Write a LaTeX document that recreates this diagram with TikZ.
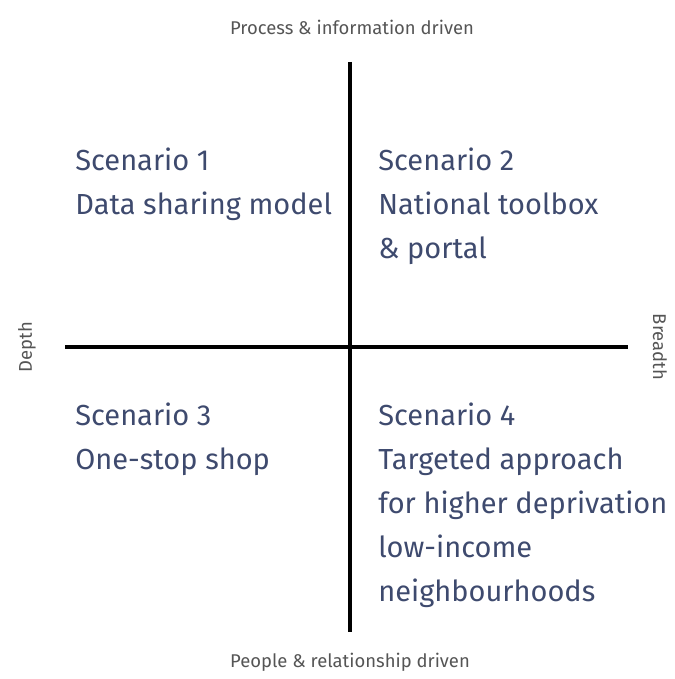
\documentclass[tikz,border=0pt]{standalone}
\usepackage{fontspec}
\setmainfont{Fira Sans}
\definecolor{scentext}{HTML}{3E4A6E}
\definecolor{axistext}{HTML}{555555}
\tikzset{
    % base west of a multi-line node sits on its last line
    scenario/.style={anchor=base west, inner sep=0pt, align=left, text=scentext,
        font=\fontsize{16.5}{22}\selectfont},
    axislabel/.style={inner sep=0pt, text=axistext, font=\fontsize{10.5}{12}\selectfont},
    axisline/.style={line width=2.2pt, black}
}
\begin{document}
\begin{tikzpicture}[x=0.02cm, y=-0.02cm]
    \useasboundingbox (0,0) rectangle (675,679);
    % the two axes
    \coordinate (top) at (350,62);
    \coordinate (bottom) at (350,632);
    \coordinate (left) at (65,347);
    \coordinate (right) at (628,347);
    \draw[axisline] (top) -- (bottom);
    \draw[axisline] (left) -- (right);

    % axis captions
    \node[axislabel] (process) at (352,27) {Process \& information driven};
    \node[axislabel] (people) at (350,662) {People \& relationship driven};
    \node[axislabel, rotate=90] (depth) at (27,347) {Depth};
    \node[axislabel, rotate=-90] (breadth) at (660,347) {Breadth};

    % quadrants
    \node[scenario] (scen1) at (75,214) {Scenario 1\\[3pt]Data sharing model};
    \node[scenario] (scen2) at (378,258) {Scenario 2\\[3pt]National toolbox\\[3pt]\& portal};
    \node[scenario] (scen3) at (75,469) {Scenario 3\\[3pt]One-stop shop};
    \node[scenario] (scen4) at (378,601) {Scenario 4\\[3pt]Targeted approach\\[3pt]for higher deprivation\\[3pt]low-income\\[3pt]neighbourhoods};
\end{tikzpicture}
\end{document}
